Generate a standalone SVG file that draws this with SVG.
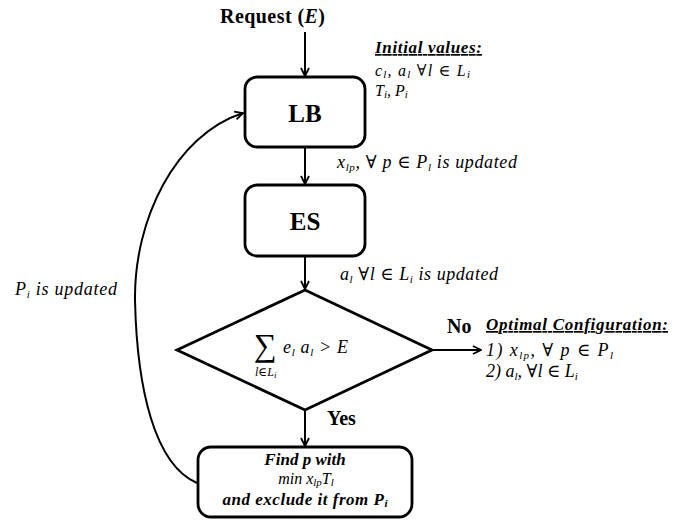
<svg xmlns="http://www.w3.org/2000/svg" width="695" height="520" viewBox="0 0 695 520">
<defs>
<marker id="arr" viewBox="0 0 10 10" refX="9" refY="5" markerWidth="10" markerHeight="10" markerUnits="userSpaceOnUse" orient="auto">
<path d="M1,1 L9,5 L1,9" fill="none" stroke="#000" stroke-width="1.8" stroke-linejoin="miter"/>
</marker>
<style>
text{font-family:"Liberation Serif","DejaVu Serif",serif;fill:#000}
.box{fill:#fff;stroke:#000;stroke-width:2.8}
.ln{fill:none;stroke:#000;stroke-width:2}
.big{font-size:25px;font-weight:bold}
.it{font-style:italic;font-size:18px}
.sm{font-style:italic;font-size:16px}
.bi{font-style:italic;font-weight:bold;font-size:17px}
.sub{font-size:11px}
.hd{font-size:20px;font-weight:bold}
</style>
</defs>
<g id="request"><text x="220" y="23" class="hd" textLength="105">Request (<tspan font-style="italic">E</tspan>)</text></g>
<g id="init-values">
<text x="375" y="53" class="bi" text-decoration="underline" textLength="107">Initial values:</text>
<text x="375" y="76" class="sm" textLength="95">c<tspan class="sub" dy="2">l</tspan><tspan dy="-2">, a</tspan><tspan class="sub" dy="2">l</tspan><tspan dy="-2"> ∀l ∈ L</tspan><tspan class="sub" dy="2">i</tspan></text>
<text x="375" y="96" class="sm">T<tspan class="sub" dy="2">i</tspan><tspan dy="-2">, P</tspan><tspan class="sub" dy="2">i</tspan></text>
</g>
<g id="LB"><rect class="box" x="245" y="77" width="120" height="70" rx="12"/><text x="305" y="122" class="big" text-anchor="middle">LB</text></g>
<g id="ES"><rect class="box" x="245" y="185" width="120" height="71" rx="12"/><text x="305" y="230" class="big" text-anchor="middle">ES</text></g>
<g id="decision">
<polygon class="box" points="305,290 432,350 305,410 177,350"/>
<text x="254" y="356" font-size="32">∑</text>
<text x="283" y="353" class="it" textLength="65">e<tspan class="sub" dy="3">l</tspan><tspan dy="-3"> a</tspan><tspan class="sub" dy="3">l</tspan><tspan dy="-3"> &gt; E</tspan></text>
<text x="255" y="376" font-style="italic" font-size="12">l∈L<tspan font-size="9" dy="2">i</tspan></text>
</g>
<g id="find">
<rect class="box" x="198" y="447" width="214" height="70" rx="13"/>
<text x="305" y="465" class="bi" font-size="18" text-anchor="middle">Find p with</text>
<text x="306" y="484" class="sm" font-size="17" text-anchor="middle">min x<tspan class="sub" dy="2">lp</tspan><tspan dy="-2">T</tspan><tspan class="sub" dy="2">l</tspan></text>
<text x="305" y="505" class="bi" text-anchor="middle" textLength="165">and exclude it from P<tspan class="sub" dy="2">i</tspan></text>
</g>
<g id="optimal">
<text x="486" y="330" class="bi" text-decoration="underline" textLength="182">Optimal Configuration:</text>
<text x="486" y="356" class="it" textLength="127">1)   x<tspan class="sub" dy="3">lp</tspan><tspan dy="-3">, ∀ p ∈ P</tspan><tspan class="sub" dy="3">l</tspan></text>
<text x="486" y="377" class="it">2)   a<tspan class="sub" dy="3">l</tspan><tspan dy="-3">, ∀l ∈ L</tspan><tspan class="sub" dy="3">i</tspan></text>
</g>
<g id="labels">
<text x="337" y="168" class="it" textLength="180">x<tspan class="sub" dy="3">lp</tspan><tspan dy="-3">, ∀ p ∈ P</tspan><tspan class="sub" dy="3">l</tspan><tspan dy="-3">  is updated</tspan></text>
<text x="340" y="280" class="it" textLength="158">a<tspan class="sub" dy="3">l</tspan><tspan dy="-3"> ∀l ∈ L</tspan><tspan class="sub" dy="3">i</tspan><tspan dy="-3"> is updated</tspan></text>
<text x="447" y="333" class="hd">No</text>
<text x="327" y="425" class="hd">Yes</text>
<text x="15" y="295" class="it" textLength="102">P<tspan class="sub" dy="3">i</tspan><tspan dy="-3">  is updated</tspan></text>
</g>
<g id="connectors">
<line class="ln" x1="305" y1="32" x2="305" y2="76" marker-end="url(#arr)"/>
<line class="ln" x1="305" y1="147" x2="305" y2="184" marker-end="url(#arr)"/>
<line class="ln" x1="305" y1="256" x2="305" y2="289" marker-end="url(#arr)"/>
<line class="ln" x1="432" y1="350" x2="481" y2="350" marker-end="url(#arr)"/>
<line class="ln" x1="305" y1="410" x2="305" y2="446" marker-end="url(#arr)"/>
<path class="ln" d="M197,483 C155,465 137,390 135,300 C134,220 175,135 243,113" marker-end="url(#arr)"/>
</g>
</svg>
